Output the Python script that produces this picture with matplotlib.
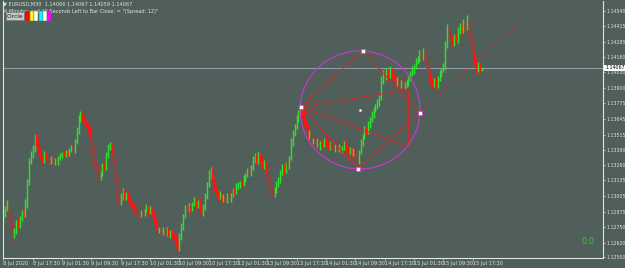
import numpy as np
import matplotlib
matplotlib.use('Agg')
import matplotlib.pyplot as plt
from matplotlib.patches import Ellipse, Rectangle


# EURUSD M30, 8 Jul 2020 .. 15 Jul 2020
first_open = 1.1282
closes = [
    1.1286, 1.1290, 1.1293, 1.1284, 1.1275, 1.1268, 1.1272, 1.1279, 1.1276, 1.1283,
    1.1287, 1.1285, 1.1294, 1.1312, 1.1330, 1.1334, 1.1340, 1.1350, 1.1346, 1.1338,
    1.1333, 1.1330, 1.1335, 1.1333, 1.1331, 1.1329, 1.1332, 1.1328, 1.1330, 1.1329,
    1.1332, 1.1334, 1.1336, 1.1335, 1.1337, 1.1336, 1.1339, 1.1341, 1.1338, 1.1346,
    1.1355, 1.1364, 1.1368, 1.1366, 1.1362, 1.1360, 1.1356, 1.1350, 1.1340, 1.1330,
    1.1325, 1.1322, 1.1316, 1.1320, 1.1326, 1.1324, 1.1335, 1.1341, 1.1343, 1.1338,
    1.1330, 1.1315, 1.1300, 1.1295, 1.1300, 1.1305, 1.1300, 1.1302, 1.1298, 1.1295,
    1.1293, 1.1290, 1.1288, 1.1285, 1.1284, 1.1287, 1.1286, 1.1289, 1.1291, 1.1288,
    1.1290, 1.1287, 1.1280, 1.1275, 1.1272, 1.1274, 1.1271, 1.1273, 1.1270, 1.1272,
    1.1269, 1.1271, 1.1268, 1.1266, 1.1262, 1.1258, 1.1266, 1.1275, 1.1284, 1.1290,
    1.1289, 1.1292, 1.1290, 1.1294, 1.1297, 1.1293, 1.1296, 1.1290, 1.1286, 1.1292,
    1.1300, 1.1310, 1.1318, 1.1322, 1.1315, 1.1308, 1.1303, 1.1300, 1.1302, 1.1298,
    1.1300, 1.1297, 1.1301, 1.1299, 1.1302, 1.1305, 1.1304, 1.1308, 1.1310, 1.1312,
    1.1311, 1.1315, 1.1318, 1.1322, 1.1320, 1.1324, 1.1330, 1.1333, 1.1329, 1.1334,
    1.1331, 1.1326, 1.1328, 1.1322, 1.1316, 1.1310, 1.1305, 1.1302, 1.1306, 1.1310,
    1.1314, 1.1320, 1.1324, 1.1322, 1.1328, 1.1326, 1.1332, 1.1345, 1.1352, 1.1358,
    1.1365, 1.1370, 1.1374, 1.1368, 1.1362, 1.1358, 1.1350, 1.1352, 1.1346, 1.1348,
    1.1344, 1.1346, 1.1342, 1.1345, 1.1343, 1.1347, 1.1344, 1.1341, 1.1345, 1.1343,
    1.1340, 1.1343, 1.1339, 1.1342, 1.1338, 1.1341, 1.1344, 1.1340, 1.1337, 1.1339,
    1.1336, 1.1338, 1.1333, 1.1329, 1.1337, 1.1345, 1.1350, 1.1356, 1.1354, 1.1360,
    1.1364, 1.1368, 1.1372, 1.1375, 1.1378, 1.1382, 1.1396, 1.1402, 1.1399, 1.1404,
    1.1400, 1.1405, 1.1401, 1.1398, 1.1394, 1.1396, 1.1392, 1.1395, 1.1391, 1.1393,
    1.1395, 1.1398, 1.1402, 1.1405, 1.1408, 1.1412, 1.1415, 1.1418, 1.1416, 1.1420,
    1.1414, 1.1406, 1.1400, 1.1396, 1.1393, 1.1396, 1.1392, 1.1398, 1.1402, 1.1405,
    1.1408, 1.1425, 1.1438, 1.1434, 1.1430, 1.1428, 1.1433, 1.1430, 1.1437, 1.1441,
    1.1438, 1.1443, 1.1440, 1.1444, 1.1436, 1.1428, 1.1420, 1.1413, 1.1405, 1.1409,
    1.1405, 1.14067,
]
# wick lengths in pips above / below the candle body
wick_up = [
    3, 2, 4, 1, 2, 3, 2, 2, 3, 1, 2, 3, 4, 3, 2, 4, 3, 2, 3, 2,
    2, 1, 3, 2, 2, 1, 2, 3, 2, 1, 2, 2, 1, 3, 2, 2, 1, 2, 3, 2,
    3, 4, 3, 2, 2, 1, 2, 3, 2, 3, 2, 3, 2, 1, 2, 3, 2, 3, 2, 1,
    2, 3, 4, 2, 3, 2, 1, 2, 3, 2, 1, 2, 2, 3, 1, 2, 2, 1, 3, 2,
    2, 1, 2, 3, 2, 1, 2, 2, 1, 3, 2, 1, 2, 2, 3, 2, 4, 3, 2, 3,
    2, 3, 1, 2, 3, 2, 1, 3, 2, 2, 3, 2, 4, 3, 2, 1, 2, 2, 3, 1,
    2, 1, 2, 3, 1, 2, 2, 3, 2, 1, 2, 3, 2, 2, 3, 2, 4, 3, 2, 3,
    2, 3, 2, 1, 2, 3, 2, 1, 2, 3, 2, 2, 3, 2, 1, 3, 2, 4, 3, 2,
    3, 2, 4, 2, 3, 2, 2, 3, 2, 1, 2, 3, 2, 1, 2, 2, 3, 2, 1, 2,
    2, 1, 3, 2, 2, 1, 2, 3, 2, 2, 1, 2, 3, 2, 2, 3, 2, 3, 2, 3,
    2, 3, 2, 2, 3, 2, 4, 3, 2, 3, 2, 3, 2, 1, 2, 3, 2, 2, 3, 2,
    2, 3, 2, 3, 2, 3, 2, 4, 2, 3, 2, 1, 2, 3, 2, 2, 3, 2, 3, 2,
    3, 4, 5, 3, 2, 3, 2, 3, 4, 3, 2, 4, 3, 7, 3, 2, 3, 2, 2, 3,
    2, 1,
]
wick_down = [
    2, 3, 2, 3, 4, 5, 2, 3, 2, 2, 3, 2, 2, 3, 2, 3, 2, 3, 4, 3,
    2, 3, 2, 2, 3, 2, 2, 1, 2, 2, 3, 2, 2, 1, 2, 3, 2, 2, 1, 2,
    2, 3, 2, 3, 2, 2, 3, 2, 4, 3, 2, 3, 4, 2, 3, 2, 2, 3, 2, 3,
    3, 4, 5, 3, 2, 3, 2, 3, 2, 3, 2, 3, 2, 3, 2, 1, 3, 2, 2, 3,
    2, 3, 3, 2, 3, 2, 2, 3, 2, 3, 2, 3, 2, 3, 4, 4, 3, 2, 3, 2,
    3, 2, 3, 2, 2, 3, 2, 4, 3, 2, 3, 2, 2, 3, 2, 3, 2, 3, 2, 3,
    2, 3, 2, 2, 3, 2, 3, 2, 2, 3, 2, 2, 3, 2, 2, 3, 2, 2, 3, 2,
    3, 2, 3, 2, 3, 2, 4, 3, 2, 3, 2, 3, 2, 3, 2, 2, 3, 2, 3, 2,
    2, 3, 2, 3, 3, 2, 3, 2, 3, 2, 2, 3, 2, 3, 2, 2, 3, 2, 2, 3,
    2, 3, 2, 2, 3, 2, 2, 3, 3, 2, 3, 2, 3, 4, 2, 2, 3, 2, 3, 2,
    3, 2, 3, 2, 2, 3, 2, 3, 3, 2, 3, 2, 3, 2, 3, 2, 3, 2, 3, 2,
    2, 3, 2, 2, 3, 2, 2, 3, 2, 3, 3, 3, 4, 3, 3, 2, 3, 2, 2, 3,
    2, 3, 2, 3, 2, 3, 3, 2, 3, 2, 3, 2, 3, 2, 3, 3, 4, 3, 3, 2,
    2, 1,
]

time_labels = ['8 Jul 2020', '8 Jul 17:30', '9 Jul 01:30', '9 Jul 09:30', '9 Jul 17:30',
               '10 Jul 01:30', '10 Jul 09:30', '10 Jul 17:30', '13 Jul 01:30', '13 Jul 09:30',
               '13 Jul 17:30', '14 Jul 01:30', '14 Jul 09:30', '14 Jul 17:30', '15 Jul 01:30',
               '15 Jul 09:30', '15 Jul 17:30']
bars_per_label = 16
price_ticks = [1.12500, 1.12620, 1.12750, 1.12875, 1.13005, 1.13135, 1.13260, 1.13390,
               1.13515, 1.13645, 1.13775, 1.13900, 1.14030, 1.14160, 1.14285, 1.14415, 1.14540]
last_price = 1.14067
header = '\u25bc EURUSD,M30  1.14066 1.14067 1.14059 1.14067'
timer_text = '6 Minutes and 49 Seconds Left to Bar Close: = "(Spread: 12)"'

# drawing objects: (bar index, price)
circle_center = (194.6, 1.13719)
circle_width_bars = 65.5
circle_height_price = 0.00978
pts = {
    'A': (162.5, 1.13744),
    'B': (196.2, 1.14208),
    'C': (227.3, 1.13694),
    'D': (193.5, 1.13230),
    'E': (220.8, 1.13412),
    'F': (220.8, 1.13885),
    'G': (281.9, 1.14449),
}
solid_lines = [('A', 'B'), ('B', 'C'), ('A', 'F'), ('F', 'E'), ('A', 'E'), ('A', 'D'), ('D', 'C')]
circle_points = ['A', 'B', 'C', 'D']

BG = '#505f5a'
FG = '#dfe5e2'
BULL = '#2fe02f'
BEAR = '#ff1414'
SMALL = ['Liberation Sans Narrow', 'DejaVu Sans']

W, H = 625, 268
fig = plt.figure(figsize=(W / 100, H / 100), dpi=100, facecolor=BG)
ax = fig.add_axes([3 / W, (H - 258) / H, 600 / W, 257 / H], facecolor=BG)

closes = np.array(closes)
opens = np.concatenate([[first_open], closes[:-1]])
highs = np.maximum(opens, closes) + np.array(wick_up) * 0.0001
lows = np.minimum(opens, closes) - np.array(wick_down) * 0.0001
idx = np.arange(len(closes))
cols = [BULL if c >= o else BEAR for o, c in zip(opens, closes)]
ax.vlines(idx, lows, highs, colors=cols, lw=1.05)

# current price line
ax.axhline(last_price, color='#8d9bab', lw=0.8, zorder=1)

# circle object
ax.add_patch(Ellipse(circle_center, circle_width_bars, circle_height_price,
                     fill=False, edgecolor='#c737c7', lw=0.9, zorder=4))
for a, b in solid_lines:
    ax.plot([pts[a][0], pts[b][0]], [pts[a][1], pts[b][1]], color='#d42a2a', lw=0.7, zorder=3)
ax.plot([pts['C'][0], pts['G'][0]], [pts['C'][1], pts['G'][1]],
        color='#d42a2a', lw=0.8, ls=(0, (1.5, 2.5)), zorder=3)
for k in circle_points:
    ax.plot(*pts[k], marker='s', ms=2.2, mfc='white', mec='#e040e0', mew=0.6, zorder=5)
ax.plot(*circle_center, marker='s', ms=1.4, mfc='white', mec='#e8e8e8', mew=0.3, zorder=5)

ax.set_xlim(-0.27, 327.2)
ax.set_ylim(1.124917, 1.146222)

tick_pos = [i * bars_per_label for i in range(len(time_labels))]
ax.set_xticks(tick_pos)
ax.set_xticklabels(time_labels, ha='left', fontsize=3.6, color=FG, family=SMALL)
ax.tick_params(axis='x', length=1.5, width=0.5, color=FG, pad=1)
ax.yaxis.tick_right()
ax.set_yticks(price_ticks)
ax.set_yticklabels([f'{p:.5f}' for p in price_ticks], fontsize=3.4, color=FG, family=SMALL)
ax.tick_params(axis='y', length=1.5, width=0.5, color=FG, pad=0.8)

for s in ['left', 'bottom', 'right']:
    ax.spines[s].set_color(FG)
    ax.spines[s].set_linewidth(0.8)
ax.spines['top'].set_visible(False)

# price tag on the right scale
ax.text(1.004, last_price, f'{last_price:.5f}', transform=ax.get_yaxis_transform(),
        fontsize=3.4, family=SMALL, color='black', va='center', ha='left', zorder=10,
        bbox=dict(boxstyle='square,pad=0.2', fc='white', ec='none'), clip_on=False)

# header texts and buttons
fig.text(3 / W, 1 - 4 / H, header, fontsize=3.6, family=SMALL, color=FG, va='center', ha='left')
fig.text(4 / W, 1 - 11 / H, timer_text, fontsize=3.6, family=SMALL, color=FG, va='center', ha='left')
fig.patches.append(Rectangle((6 / W, 1 - 20 / H), 18 / W, 8 / H, transform=fig.transFigure,
                             fc='#c8c8c8', ec='#707070', lw=0.4, zorder=5))
fig.text(15 / W, 1 - 16 / H, 'Circle', fontsize=4.2, family=SMALL, color='#202020',
         ha='center', va='center', zorder=6)
button_colors = ['#ff0000', '#ffff00', '#ffffff', '#00ffff', '#ffffff', '#ff00ff']
button_x = [25, 29.5, 34, 38.5, 43, 47]
for bx, bc in zip(button_x, button_colors):
    fig.patches.append(Rectangle((bx / W, 1 - 21 / H), 4 / W, 10 / H, transform=fig.transFigure,
                                 fc=bc, ec='#606060', lw=0.3, zorder=5))

fig.text(588 / W, 1 - 241 / H, '0.0', fontsize=6, color='#2fd02f', ha='center', va='center')

fig.savefig('out.png', dpi=100, facecolor=BG)
